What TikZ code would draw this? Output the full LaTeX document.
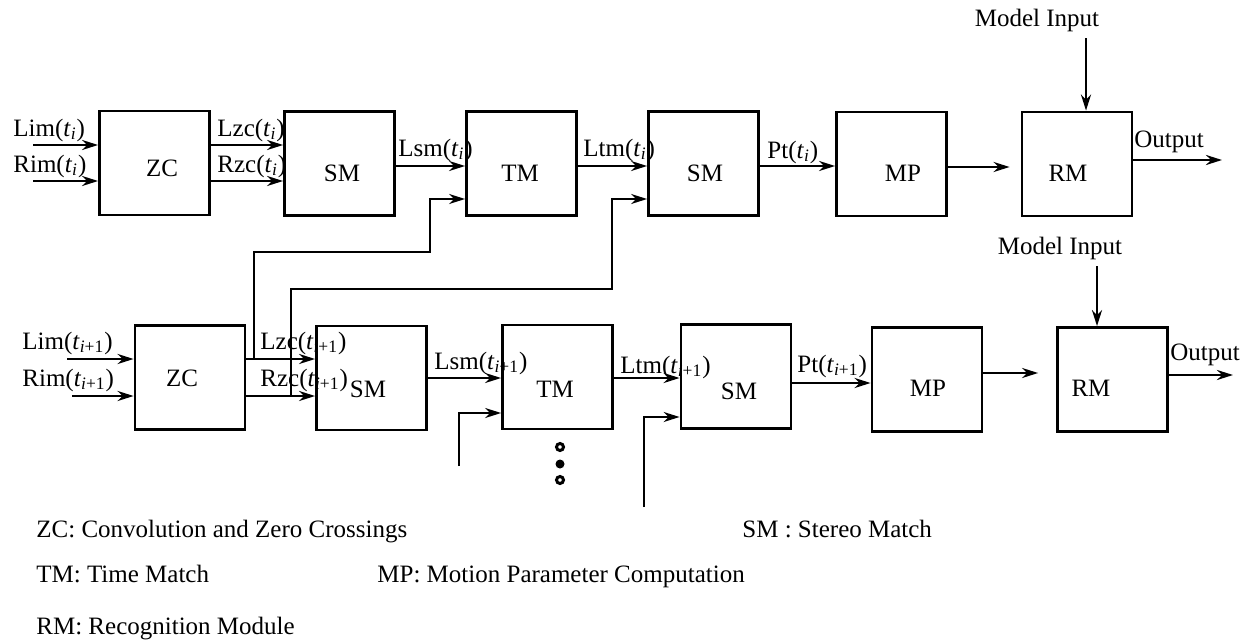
\documentclass[tikz,border=0pt]{standalone}
\usepackage{fontspec}
\setmainfont{Liberation Serif}
\usetikzlibrary{arrows.meta}
\newcommand{\tsub}[1]{\textit{t}\textsubscript{#1}}

\begin{document}
\begin{tikzpicture}[x=0.5pt, y=-0.5pt, font=\fontsize{12.5}{15}\selectfont,
    blk/.style={draw, line width=1.4pt, minimum width=55pt, minimum height=52pt, inner sep=0pt},
    arr/.style={line width=1.3pt, -{Stealth[length=8pt, width=5pt]}},
    wire/.style={line width=1.1pt, -{Stealth[length=8pt, width=5pt]}},
    lbl/.style={anchor=west, inner sep=0pt}]
      \useasboundingbox (0,0) rectangle (1242,642);
      % time t_i
      \node (zc1) at (154.5,163) [blk] {};
      \node (sm1) at (339.5,163.5) [blk] {};
      \node (tm1) at (521.5,163.5) [blk] {};
      \node (sm2) at (703.5,163.5) [blk] {};
      \node (mp1) at (891.5,164) [blk] {};
      \node (rm1) at (1077,164) [blk] {};
      \node (zc1t) at (162,168) {ZC};
      \node (sm1t) at (342,173) {SM};
      \node (tm1t) at (520,173) {TM};
      \node (sm2t) at (705,173) {SM};
      \node (mp1t) at (903,173) {MP};
      \node (rm1t) at (1068,173) {RM};
      % time t_{i+1}
      \node (zc2) at (190,377.5) [blk] {};
      \node (sm3) at (371.5,378) [blk] {};
      \node (tm2) at (557.5,377) [blk] {};
      \node (sm4) at (736,376.5) [blk] {};
      \node (mp2) at (927,379.5) [blk] {};
      \node (rm2) at (1112.5,379.5) [blk] {};
      \node (zc2t) at (182,378) {ZC};
      \node (sm3t) at (368,389) {SM};
      \node (tm2t) at (555,389) {TM};
      \node (sm4t) at (739,391) {SM};
      \node (mp2t) at (928,388) {MP};
      \node (rm2t) at (1091,388) {RM};
      % signal names
      \node (lim1) at (13,130) [lbl] {Lim(\tsub{\textit{i}})};
      \node (rim1) at (13,166) [lbl] {Rim(\tsub{\textit{i}})};
      \node (lzc1) at (217,130) [lbl] {Lzc(\tsub{\textit{i}})};
      \node (rzc1) at (217,166) [lbl] {Rzc(\tsub{\textit{i}})};
      \node (lsm1) at (398,150) [lbl] {Lsm(\tsub{\textit{i}})};
      \node (ltm1) at (583,150) [lbl] {Ltm(\tsub{\textit{i}})};
      \node (pt1) at (767,152) [lbl] {Pt(\tsub{\textit{i}})};
      \node (out1) at (1134,142) [lbl] {Output};
      \node (mi1) at (1037,20) {Model Input};
      \node (lim2) at (22,343) [lbl] {Lim(\tsub{\textit{i}+1})};
      \node (rim2) at (22,380) [lbl] {Rim(\tsub{\textit{i}+1})};
      \node (lzc2) at (260,343) [lbl] {Lzc(\tsub{\textit{i}+1})};
      \node (rzc2) at (260,380) [lbl] {Rzc(\tsub{\textit{i}+1})};
      \node (lsm2) at (434,363) [lbl] {Lsm(\tsub{\textit{i}+1})};
      \node (ltm2) at (620,367) [lbl] {Ltm(\tsub{\textit{i}+1})};
      \node (pt2) at (797,366) [lbl] {Pt(\tsub{\textit{i}+1})};
      \node (out2) at (1170,355) [lbl] {Output};
      \node (mi2) at (1060,248) {Model Input};
      % free ends
      \coordinate (in1a) at (33,145);
      \coordinate (in1b) at (33,181);
      \coordinate (in2a) at (67,359);
      \coordinate (in2b) at (72,396);
      \coordinate (o1) at (1222,160);
      \coordinate (o2) at (1233,375);
      \coordinate (j1) at (254,359);
      \coordinate (j2) at (291,396);
      \coordinate (s1) at (459,466);
      \coordinate (s2) at (644,507);
      % connectors
      \draw[arr] (in1a) -- (zc1.west |- in1a);
      \draw[arr] (in1b) -- (zc1.west |- in1b);
      \draw[arr] (zc1.east |- 0,145) -- (sm1.west |- 0,145);
      \draw[arr] (zc1.east |- 0,181) -- (sm1.west |- 0,181);
      \draw[arr] (sm1.east |- 0,166) -- (tm1.west |- 0,166);
      \draw[arr] (tm1.east |- 0,166) -- (sm2.west |- 0,166);
      \draw[arr] (sm2.east |- 0,166) -- (mp1.west |- 0,166);
      \draw[arr, shorten >=5.5pt] (mp1.east |- 0,167) -- (rm1.west |- 0,167);
      \draw[arr] (rm1.east |- o1) -- (o1);
      \draw[arr] (mi1.south -| 1086,0) -- (rm1.north -| 1086,0);
      \draw[arr] (in2a) -- (zc2.west |- in2a);
      \draw[arr] (in2b) -- (zc2.west |- in2b);
      \draw[arr] (zc2.east |- 0,359) -- (sm3.west |- 0,359);
      \draw[arr] (zc2.east |- 0,396) -- (sm3.west |- 0,396);
      \draw[arr] (sm3.east |- 0,378) -- (tm2.west |- 0,378);
      \draw[arr] (tm2.east |- 0,378) -- (sm4.west |- 0,378);
      \draw[arr] (sm4.east |- 0,383) -- (mp2.west |- 0,383);
      \draw[arr, shorten >=9pt] (mp2.east |- 0,373) -- (rm2.west |- 0,373);
      \draw[arr] (rm2.east |- o2) -- (o2);
      \draw[arr] (mi2.south -| 1097,0) -- (rm2.north -| 1097,0);
      \draw[wire] (j1) |- (430,252) |- (tm1.west |- 0,199);
      \draw[wire] (j2) |- (612,289) |- (sm2.west |- 0,199);
      \draw[wire] (s1) |- (tm2.west |- 0,413);
      \draw[wire] (s2) |- (sm4.west |- 0,417);
      % more stages below
      \draw[line width=1.5pt] (560,447) circle (3.5);
      \fill (560,464) circle (4.5);
      \draw[line width=1.5pt] (560,480) circle (3.5);
      % legend
      \node (kzc) at (36,537) [anchor=base west, inner sep=0pt] {ZC: Convolution and Zero Crossings};
      \node (ksm) at (742,537) [anchor=base west, inner sep=0pt] {SM : Stereo Match};
      \node (ktm) at (36,582) [anchor=base west, inner sep=0pt] {TM: Time Match};
      \node (kmp) at (377,582) [anchor=base west, inner sep=0pt] {MP: Motion Parameter Computation};
      \node (krm) at (36,634) [anchor=base west, inner sep=0pt] {RM: Recognition Module};
    \end{tikzpicture}
\end{document}
